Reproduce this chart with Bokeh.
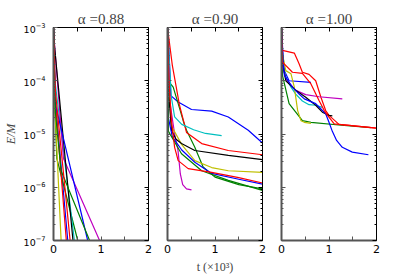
import numpy as np
from bokeh.plotting import figure
from bokeh.layouts import row
from bokeh.models import (Range1d, FixedTicker, LinearAxis, LogAxis, LogTickFormatter,
                          CustomJSTickFormatter)
from bokeh.embed import file_html
from bokeh.resources import INLINE

# ---------------- data (t in units of 10^3, log10 of E/M) ----------------
TITLES = ["α =0.88", "α =0.90", "α =1.00"]
X_TICKS = [0, 1, 2]
X_MINOR = [0.5, 1.5]
Y_TICKS = [1e-7, 1e-6, 1e-5, 1e-4, 1e-3]

# alpha = 0.88
a88_b1_t = [0, 0.04, 0.30];            a88_b1_l = [-3.0, -4.4, -7.0]
a88_g1_t = [0, 0.03, 0.07, 0.51];      a88_g1_l = [-3.0, -4.5, -5.46, -7.0]
a88_r1_t = [0, 0.03, 0.27];            a88_r1_l = [-3.0, -4.3, -7.0]
a88_c_t = [0, 0.03, 0.44];             a88_c_l = [-3.0, -4.0, -7.0]
a88_m_t = [0, 0.02, 0.21, 0.97];       a88_m_l = [-3.0, -3.3, -5.46, -7.0]
a88_y_t = [0, 0.03, 0.16];             a88_y_l = [-3.0, -4.5, -7.0]
a88_k_t = [0, 0.02, 0.41];             a88_k_l = [-3.0, -3.34, -7.0]
a88_b2_t = [0, 0.04, 0.72];            a88_b2_l = [-3.0, -4.45, -7.0]
a88_g2_t = [0, 0.04, 0.16, 0.76];      a88_g2_l = [-3.0, -4.6, -5.69, -7.0]
a88_r2_t = [0, 0.04, 0.35];            a88_r2_l = [-3.0, -4.2, -7.0]

# alpha = 0.90
a90_b1_t = [0, 0.02, 0.07, 0.225, 0.505, 0.93, 1.28, 1.70, 2.0]
a90_b1_l = [-2.9, -3.2, -4.28, -4.40, -4.54, -4.57, -4.68, -4.93, -5.17]
a90_g1_t = [0, 0.01, 0.12, 0.225, 0.33, 0.4, 0.575, 0.75, 1.0, 1.5, 2.0]
a90_g1_l = [-3.0, -4.0, -4.12, -4.43, -4.75, -4.93, -5.25, -5.62, -5.81, -5.95, -6.03]
a90_r1_t = [0, 0.1, 0.25, 0.4, 0.72, 1.28, 2.0]
a90_r1_l = [-3.0, -3.7, -4.45, -4.97, -5.18, -5.31, -5.39]
a90_c_t = [0, 0.03, 0.08, 0.15, 0.3, 0.55, 0.8, 1.14]
a90_c_l = [-3.0, -3.5, -4.3, -4.68, -4.82, -4.92, -4.99, -5.03]
a90_m_t = [0, 0.05, 0.15, 0.22, 0.27, 0.32, 0.4, 0.505]
a90_m_l = [-3.0, -4.4, -5.0, -5.3, -5.75, -5.95, -6.03, -6.05]
a90_y_t = [0, 0.03, 0.084, 0.3, 0.575, 0.93, 1.28, 2.0]
a90_y_l = [-3.0, -4.2, -4.85, -5.2, -5.5, -5.63, -5.69, -5.72]
a90_k_t = [0, 0.03, 0.084, 0.18, 0.295, 0.575, 1.28, 2.0]
a90_k_l = [-3.0, -4.3, -4.93, -5.1, -5.18, -5.31, -5.40, -5.48]
a90_b2_t = [0, 0.02, 0.1, 0.3, 0.575, 0.93, 1.5, 2.0]
a90_b2_l = [-3.0, -4.7, -5.05, -5.3, -5.53, -5.74, -5.85, -5.94]
a90_g2_t = [0, 0.02, 0.295, 0.72, 1.28, 2.0]
a90_g2_l = [-3.0, -4.95, -5.37, -5.69, -5.87, -6.06]
a90_r2_t = [0, 0.03, 0.084, 0.15, 0.225, 0.435, 0.93, 1.5, 2.0]
a90_r2_l = [-3.0, -4.0, -4.75, -5.25, -5.50, -5.65, -5.72, -5.82, -5.92]

# alpha = 1.00
a100_b1_t = [0, 0.03, 0.06, 0.16, 0.62]
a100_b1_l = [-3.0, -3.5, -3.81, -4.0, -4.03]
a100_g1_t = [0, 0.02, 0.16, 0.30, 0.44, 0.62, 1.32, 1.88]
a100_g1_l = [-3.0, -3.9, -4.43, -4.59, -4.75, -4.78, -4.84, -4.88]
a100_r1_t = [0, 0.02, 0.27, 0.37, 0.44, 0.58, 0.72, 0.83, 0.93, 1.0, 1.21, 2.0]
a100_r1_l = [-3.0, -3.43, -3.48, -3.68, -3.84, -3.88, -4.0, -4.31, -4.56, -4.65, -4.82, -4.89]
a100_c_t = [0, 0.03, 0.1, 0.2, 0.3, 0.44, 0.58, 0.72, 0.86]
a100_c_l = [-3.0, -3.7, -3.95, -4.12, -4.25, -4.38, -4.45, -4.46, -4.50]
a100_m_t = [0, 0.03, 0.1, 0.3, 0.51, 0.79, 1.28]
a100_m_l = [-3.0, -3.75, -3.98, -4.18, -4.26, -4.30, -4.34]
a100_y_t = [0, 0.02, 0.09, 0.2, 0.27, 0.34, 0.41, 0.48, 0.62]
a100_y_l = [-3.0, -3.5, -3.81, -3.87, -4.12, -4.56, -4.75, -4.78, -4.80]
a100_k_t = [0, 0.03, 0.09, 0.30, 0.51, 0.72, 0.86, 1.0, 1.07]
a100_k_l = [-3.0, -3.7, -4.0, -4.18, -4.31, -4.46, -4.59, -4.65, -4.66]
a100_b2_t = [0, 0.03, 0.06, 0.23, 0.37, 0.48, 0.72, 0.93, 1.0, 1.07, 1.16, 1.28, 1.49, 1.83]
a100_b2_l = [-3.0, -3.6, -3.9, -4.12, -4.25, -4.34, -4.43, -4.62, -4.78, -4.95, -5.12, -5.25, -5.34, -5.39]
a100_r2_t = [0, 0.02, 0.23, 0.44, 0.62, 0.79, 0.9, 0.97, 1.11, 2.0]
a100_r2_l = [-3.0, -3.65, -3.84, -3.86, -4.06, -4.37, -4.56, -4.65, -4.81, -4.89]

B, G, R, C, M, Y, K = "#0000ff", "#008000", "#ff0000", "#00bfbf", "#bf00bf", "#bfbf00", "#000000"

panels = [
    [(B, a88_b1_t, a88_b1_l), (G, a88_g1_t, a88_g1_l), (R, a88_r1_t, a88_r1_l),
     (C, a88_c_t, a88_c_l), (M, a88_m_t, a88_m_l), (Y, a88_y_t, a88_y_l),
     (K, a88_k_t, a88_k_l), (B, a88_b2_t, a88_b2_l), (G, a88_g2_t, a88_g2_l),
     (R, a88_r2_t, a88_r2_l)],
    [(B, a90_b1_t, a90_b1_l), (G, a90_g1_t, a90_g1_l), (R, a90_r1_t, a90_r1_l),
     (C, a90_c_t, a90_c_l), (M, a90_m_t, a90_m_l), (Y, a90_y_t, a90_y_l),
     (K, a90_k_t, a90_k_l), (B, a90_b2_t, a90_b2_l), (G, a90_g2_t, a90_g2_l),
     (R, a90_r2_t, a90_r2_l)],
    [(B, a100_b1_t, a100_b1_l), (G, a100_g1_t, a100_g1_l), (R, a100_r1_t, a100_r1_l),
     (C, a100_c_t, a100_c_l), (M, a100_m_t, a100_m_l), (Y, a100_y_t, a100_y_l),
     (K, a100_k_t, a100_k_l), (B, a100_b2_t, a100_b2_l), (R, a100_r2_t, a100_r2_l)],
]

Y_MINOR = [k * d for d in Y_TICKS[:-1] for k in range(2, 10)]
AX_GRAY = "#555555"
BLANK = "return ''"


def make_panel(i):
    first = i == 0
    p = figure(frame_width=95, frame_height=213,
               x_range=Range1d(0, 2), y_range=Range1d(1e-7, 1e-3),
               y_axis_type="log", output_backend="svg", toolbar_location=None,
               min_border_left=52 if first else 9, min_border_right=10,
               min_border_top=27, min_border_bottom=37)
    p.grid.visible = False
    p.outline_line_color = "black"
    p.outline_line_width = 1
    p.background_fill_color = "white"
    p.border_fill_color = "white"

    p.title.text = TITLES[i]
    p.title.align = "center"
    p.title.text_font = "Liberation Serif"
    p.title.text_font_size = "15px"
    p.title.text_font_style = "normal"
    p.title.standoff = 2

    xt = FixedTicker(ticks=X_TICKS, minor_ticks=X_MINOR)
    yt = FixedTicker(ticks=Y_TICKS, minor_ticks=Y_MINOR)

    xa = p.xaxis[0]
    xa.ticker = xt
    xa.axis_line_color = AX_GRAY
    xa.axis_line_width = 2
    xa.major_tick_line_color = AX_GRAY
    xa.minor_tick_line_color = AX_GRAY
    xa.major_tick_in = 4
    xa.major_tick_out = 0
    xa.minor_tick_in = 4
    xa.minor_tick_out = 0
    xa.major_label_text_font = "DejaVu Sans"
    xa.major_label_text_font_size = "11px"
    xa.major_label_text_color = "black"
    xa.major_label_standoff = 4
    if i == 1:
        xa.axis_label = "t (×10³)"
        xa.axis_label_text_font = "Liberation Serif"
        xa.axis_label_text_font_size = "12px"
        xa.axis_label_text_font_style = "normal"
        xa.axis_label_standoff = 4

    ya = p.yaxis[0]
    ya.ticker = yt
    ya.axis_line_color = AX_GRAY
    ya.axis_line_width = 2
    ya.major_tick_line_color = AX_GRAY
    ya.minor_tick_line_color = AX_GRAY
    ya.major_tick_in = 4
    ya.major_tick_out = 0
    ya.minor_tick_in = 2
    ya.minor_tick_out = 0
    if first:
        ya.formatter = LogTickFormatter()
        ya.major_label_text_font = "DejaVu Sans"
        ya.major_label_text_font_size = "9.5px"
        ya.major_label_text_color = "black"
        ya.major_label_standoff = 8
        ya.axis_label = "E/M"
        ya.axis_label_text_font = "Liberation Serif"
        ya.axis_label_text_font_size = "12px"
        ya.axis_label_text_font_style = "italic"
        ya.axis_label_standoff = 3
    else:
        ya.formatter = CustomJSTickFormatter(code=BLANK)
        ya.major_label_text_font_size = "1px"
        ya.major_label_standoff = 0

    top = LinearAxis(ticker=xt, formatter=CustomJSTickFormatter(code=BLANK),
                     major_label_text_font_size="1px", major_label_standoff=0,
                     major_tick_in=4, major_tick_out=0, minor_tick_in=4, minor_tick_out=0,
                     axis_line_color="black")
    right = LogAxis(ticker=yt, formatter=CustomJSTickFormatter(code=BLANK),
                    major_label_text_font_size="1px", major_label_standoff=0,
                    major_tick_in=4, major_tick_out=0, minor_tick_in=2, minor_tick_out=0,
                    axis_line_color="black")
    p.add_layout(top, "above")
    p.add_layout(right, "right")

    for color, t, logE in panels[i]:
        p.line(t, 10.0 ** np.array(logE), line_color=color, line_width=1.2)
    return p


layout = row(make_panel(0), make_panel(1), make_panel(2))
open("out.html", "w").write(file_html(layout, INLINE))
